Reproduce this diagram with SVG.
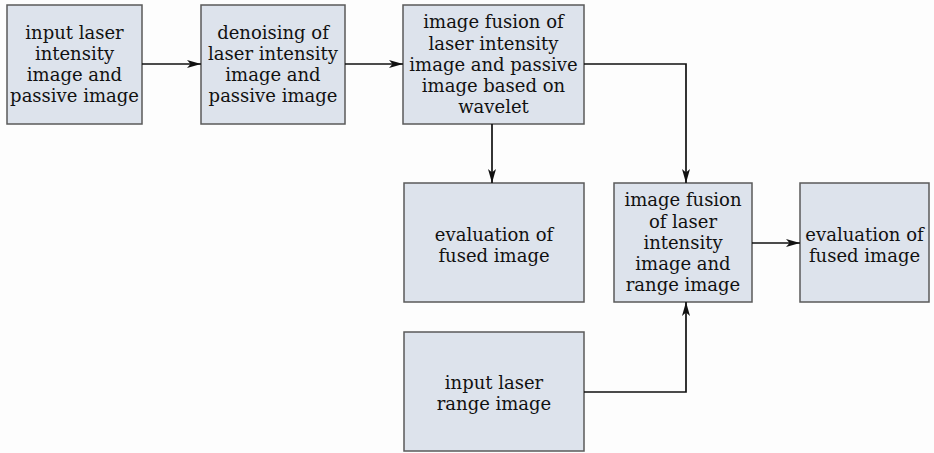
<svg xmlns="http://www.w3.org/2000/svg" width="934" height="453" viewBox="0 0 934 453">
<defs>
<marker id="ah" markerWidth="15" markerHeight="10" refX="14" refY="5" orient="auto" markerUnits="userSpaceOnUse">
<path d="M0,1 L14,5 L0,9 L3.5,5 Z" fill="#111"/>
</marker>
<style>
.box{fill:#dde3ec;stroke:#5a5a5a;stroke-width:1.5}
.lbl{font-family:"DejaVu Serif","Liberation Serif",serif;font-size:18px;fill:#111;text-anchor:middle}
.con{fill:none;stroke:#111;stroke-width:1.7;marker-end:url(#ah)}
</style>
</defs>
<rect width="934" height="453" fill="#fdfdfd"/>
<g id="n1"><rect class="box" x="7" y="5" width="135" height="119"/>
<text class="lbl"><tspan x="74.5" y="39">input laser</tspan><tspan x="74.5" y="60">intensity</tspan><tspan x="74.5" y="81">image and</tspan><tspan x="74.5" y="102">passive image</tspan></text></g>
<g id="n2"><rect class="box" x="201" y="5" width="144" height="119"/>
<text class="lbl"><tspan x="273" y="39">denoising of</tspan><tspan x="273" y="60">laser intensity</tspan><tspan x="273" y="81">image and</tspan><tspan x="273" y="102">passive image</tspan></text></g>
<g id="n3"><rect class="box" x="403" y="5" width="181" height="119"/>
<text class="lbl"><tspan x="493.5" y="28">image fusion of</tspan><tspan x="493.5" y="50">laser intensity</tspan><tspan x="493.5" y="71">image and passive</tspan><tspan x="493.5" y="92">image based on</tspan><tspan x="493.5" y="113">wavelet</tspan></text></g>
<g id="n4"><rect class="box" x="404" y="183" width="180" height="119"/>
<text class="lbl"><tspan x="494" y="241">evaluation of</tspan><tspan x="494" y="262">fused image</tspan></text></g>
<g id="n5"><rect class="box" x="614" y="183" width="138" height="119"/>
<text class="lbl"><tspan x="683" y="206">image fusion</tspan><tspan x="683" y="228">of laser</tspan><tspan x="683" y="249">intensity</tspan><tspan x="683" y="270">image and</tspan><tspan x="683" y="291">range image</tspan></text></g>
<g id="n6"><rect class="box" x="800" y="183" width="129" height="119"/>
<text class="lbl"><tspan x="864.5" y="241">evaluation of</tspan><tspan x="864.5" y="262">fused image</tspan></text></g>
<g id="n7"><rect class="box" x="404" y="332" width="180" height="119"/>
<text class="lbl"><tspan x="494" y="389">input laser</tspan><tspan x="494" y="410">range image</tspan></text></g>
<g id="connectors">
<path class="con" d="M142,64 H201"/>
<path class="con" d="M345,64 H403"/>
<path class="con" d="M584,64 H686 V183"/>
<path class="con" d="M492,124 V183"/>
<path class="con" d="M752,243 H800"/>
<path class="con" d="M584,392 H686 V302"/>
</g>
</svg>
